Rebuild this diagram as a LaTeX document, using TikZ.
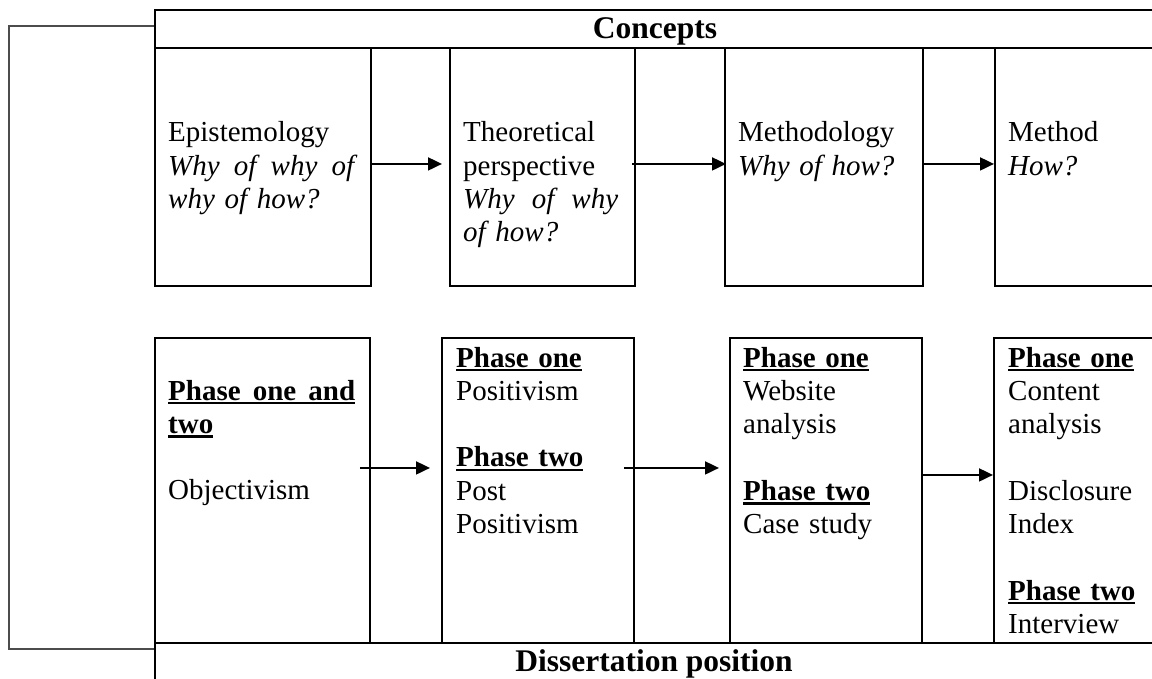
\documentclass[tikz,border=0pt]{standalone}
\usepackage{fontspec}
\setmainfont{Liberation Serif}
\usetikzlibrary{arrows.meta}
% bold heading with a heavy underline
\newcommand\headul[1]{\leavevmode\setbox0=\hbox{\bfseries #1}\rlap{\rule[-4.3pt]{\wd0}{2.5pt}}\box0}
% a line whose words are spread over a given width
\newcommand\spreadline[2]{\leavevmode\hbox to #1{#2}}
\newcommand\bodyfont{\fontsize{29}{33.3}\selectfont}
\begin{document}
\begin{tikzpicture}[x=1pt,y=-1pt,
  frame/.style={draw, line width=1.9pt, inner sep=0pt, anchor=north west},
  txt/.style={anchor=base west, inner sep=0pt, align=left, font=\bodyfont},
  head/.style={anchor=base, inner sep=0pt, font=\fontsize{31.5}{36}\selectfont\bfseries},
  arr/.style={line width=1.9pt, -{Triangle[length=14pt,width=13pt]}},
  bracket/.style={draw=black!70, line width=1.6pt}]
\useasboundingbox (0,0) rectangle (1152,679);

% outer bars
\node[frame, minimum width=1002pt, minimum height=38pt] (cbar) at (154,9) {};
\node[frame, minimum width=1002pt, minimum height=60pt] (dbar) at (154,642) {};
\node[head] (concepts) at (655,39) {Concepts};
\node[head] (position) at (654,671) {Dissertation position};

% concept row
\node[frame, minimum width=216pt, minimum height=238pt] (t1) at (154,47) {};
\node[frame, minimum width=185pt, minimum height=238pt] (t2) at (449,47) {};
\node[frame, minimum width=198pt, minimum height=238pt] (t3) at (724,47) {};
\node[frame, minimum width=162pt, minimum height=238pt] (t4) at (994,47) {};

\node[txt, text width=190pt] (t1txt) at (168,142)
  {Epistemology\\\spreadline{186pt}{\itshape Why\hfill of\hfill why\hfill of}\\\textit{why of how?}};
\node[txt, text width=160pt] (t2txt) at (463,142)
  {Theoretical\\perspective\\\spreadline{155pt}{\itshape Why\hfill of\hfill why}\\\textit{of how?}};
\node[txt, text width=175pt] (t3txt) at (738,142)
  {Methodology\\\textit{Why of how?}};
\node[txt, text width=140pt] (t4txt) at (1008,142)
  {Method\\\textit{How?}};

% dissertation row
\node[frame, minimum width=215pt, minimum height=305pt] (b1) at (154,337) {};
\node[frame, minimum width=192pt, minimum height=305pt] (b2) at (441,337) {};
\node[frame, minimum width=192pt, minimum height=305pt] (b3) at (729,337) {};
\node[frame, minimum width=163pt, minimum height=305pt] (b4) at (993,337) {};

\node[txt, text width=190pt] (b1txt) at (168,400)
  {\headul{\hbox to 187pt{Phase\hfill one\hfill and}}\\\headul{two}\\[33.3pt]Objectivism};
\node[txt, text width=170pt] (b2txt) at (456,367)
  {\headul{Phase one}\\Positivism\\[33.3pt]\headul{Phase two}\\Post\\Positivism};
\node[txt, text width=170pt] (b3txt) at (743,367)
  {\headul{Phase one}\\Website\\analysis\\[33.3pt]\headul{Phase two}\\Case study};
\node[txt, text width=145pt] (b4txt) at (1008,367)
  {\headul{Phase one}\\Content\\analysis\\[33.3pt]Disclosure\\Index\\[33.3pt]\headul{Phase two}\\Interview};

% flow between the concepts
\draw[arr] ([xshift=-2pt,yshift=3pt]t1.east) -- ([xshift=-7pt,yshift=3pt]t2.west);
\draw[arr] ([xshift=-4pt,yshift=3pt]t2.east) -- ([xshift=2pt,yshift=3pt]t3.west);
\draw[arr] ([yshift=3pt]t3.east) -- ([yshift=3pt]t4.west);

% flow between the positions
\draw[arr] ([xshift=-11pt,yshift=22.5pt]b1.east) -- ([xshift=-11pt,yshift=22.5pt]b2.west);
\draw[arr] ([xshift=-11pt,yshift=22.5pt]b2.east) -- ([xshift=-10pt,yshift=22.5pt]b3.west);
\draw[arr] ([yshift=15.5pt]b3.east) -- ([yshift=15.5pt]b4.west);

% bracket joining the two bars
\draw[bracket] ([yshift=3pt]cbar.west) -- ([yshift=3pt,xshift=-145pt]cbar.west)
  |- ([yshift=-7pt]dbar.north west);
\end{tikzpicture}
\end{document}
